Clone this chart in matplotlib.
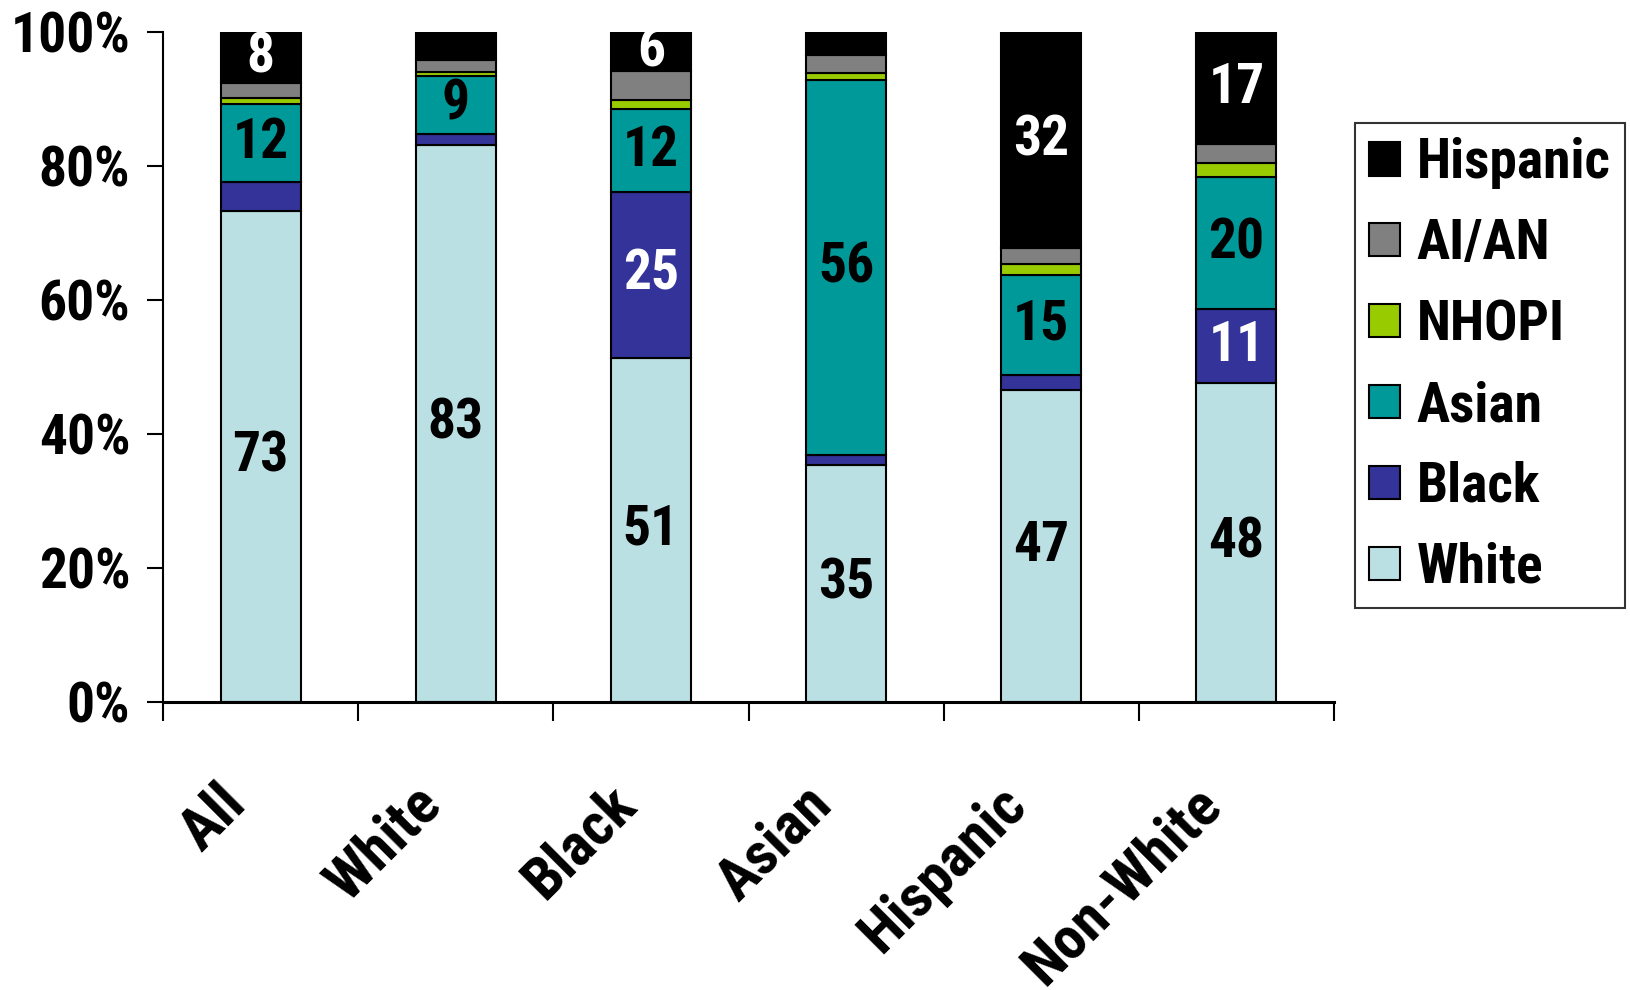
import matplotlib
matplotlib.use("Agg")
import matplotlib.pyplot as plt
import matplotlib.transforms as mtransforms
from matplotlib.patches import Patch
import numpy as np

# Share of each group (percent), stacked bottom to top
groups = ["All", "White", "Black", "Asian", "Hispanic", "Non-White"]
white = [73.3, 83.2, 51.4, 35.4, 46.6, 47.6]
black = [4.3, 1.6, 24.7, 1.4, 2.2, 11.1]
asian = [11.6, 8.7, 12.4, 56.1, 15.0, 19.6]
nhopi = [1.0, 0.6, 1.4, 1.0, 1.5, 2.2]
aian = [2.2, 1.7, 4.3, 2.6, 2.4, 2.8]
hispanic = [7.6, 4.2, 5.8, 3.5, 32.3, 16.7]

series = [
    ("White", white, "#BBE0E3", "black"),
    ("Black", black, "#333399", "white"),
    ("Asian", asian, "#009999", "black"),
    ("NHOPI", nhopi, "#99CC00", "black"),
    ("AI/AN", aian, "#808080", "black"),
    ("Hispanic", hispanic, "#000000", "white"),
]
LABEL_MIN = 5  # only segments this large get a number

# narrow bold face, close to Arial Narrow
plt.rcParams["font.family"] = ["Roboto Condensed", "Liberation Sans", "DejaVu Sans"]
plt.rcParams["font.weight"] = "bold"
FS = 40

fig = plt.figure(figsize=(16.3, 9.9), dpi=100)
ax = fig.add_axes([163 / 1630, 1 - 702 / 990, (1334 - 163) / 1630, (702 - 32) / 990])

x = np.arange(len(groups))
bottom = np.zeros(len(groups))
for name, vals, color, txt_color in series:
    vals = np.array(vals)
    ax.bar(x, vals, 0.41, bottom=bottom, color=color, edgecolor="black",
           linewidth=1.5, label=name, zorder=2)
    for xi, v, b in zip(x, vals, bottom):
        if v >= LABEL_MIN:
            ax.text(xi, b + v / 2, f"{v:.0f}", ha="center", va="center",
                    fontsize=FS, fontweight="bold", color=txt_color, zorder=3)
    bottom += vals

ax.set_xlim(-0.5, len(groups) - 0.5)
ax.set_ylim(0, 100)

for s in ["top", "right"]:
    ax.spines[s].set_visible(False)
ax.spines["left"].set_linewidth(1.5)
ax.spines["bottom"].set_linewidth(2.2)

ax.set_yticks([0, 20, 40, 60, 80, 100])
ax.set_yticklabels([f"{v}%" for v in [0, 20, 40, 60, 80, 100]])
ax.tick_params(axis="y", direction="out", length=11.5, width=1.5, pad=12, labelsize=FS)

# category boundary ticks below the axis, labels at bar centres
ax.set_xticks(np.arange(-0.5, len(groups), 1.0), minor=True)
ax.set_xticks(x)
ax.set_xticklabels(groups, rotation=45, ha="right", va="top")
ax.tick_params(axis="x", which="minor", direction="out", length=13.5, width=1.5)
ax.tick_params(axis="x", which="major", length=0, pad=53, labelsize=43)
shift = mtransforms.ScaledTranslation(-0.04, 0, fig.dpi_scale_trans)
for lbl in ax.get_xticklabels():
    lbl.set_transform(lbl.get_transform() + shift)

handles = [Patch(facecolor=c, edgecolor="black", linewidth=1.5, label=n)
           for n, _, c, _ in reversed(series)]
leg = fig.legend(handles=handles, loc="upper left",
                 bbox_to_anchor=(1355 / 1630, 1 - 123 / 990),
                 fontsize=FS, frameon=True, fancybox=False,
                 handlelength=0.55, handleheight=0.55, handletextpad=0.3,
                 labelspacing=0.52, borderpad=0.26, borderaxespad=0)
leg.get_frame().set_edgecolor("black")
leg.get_frame().set_linewidth(1.5)

fig.savefig("out.png", dpi=100)
